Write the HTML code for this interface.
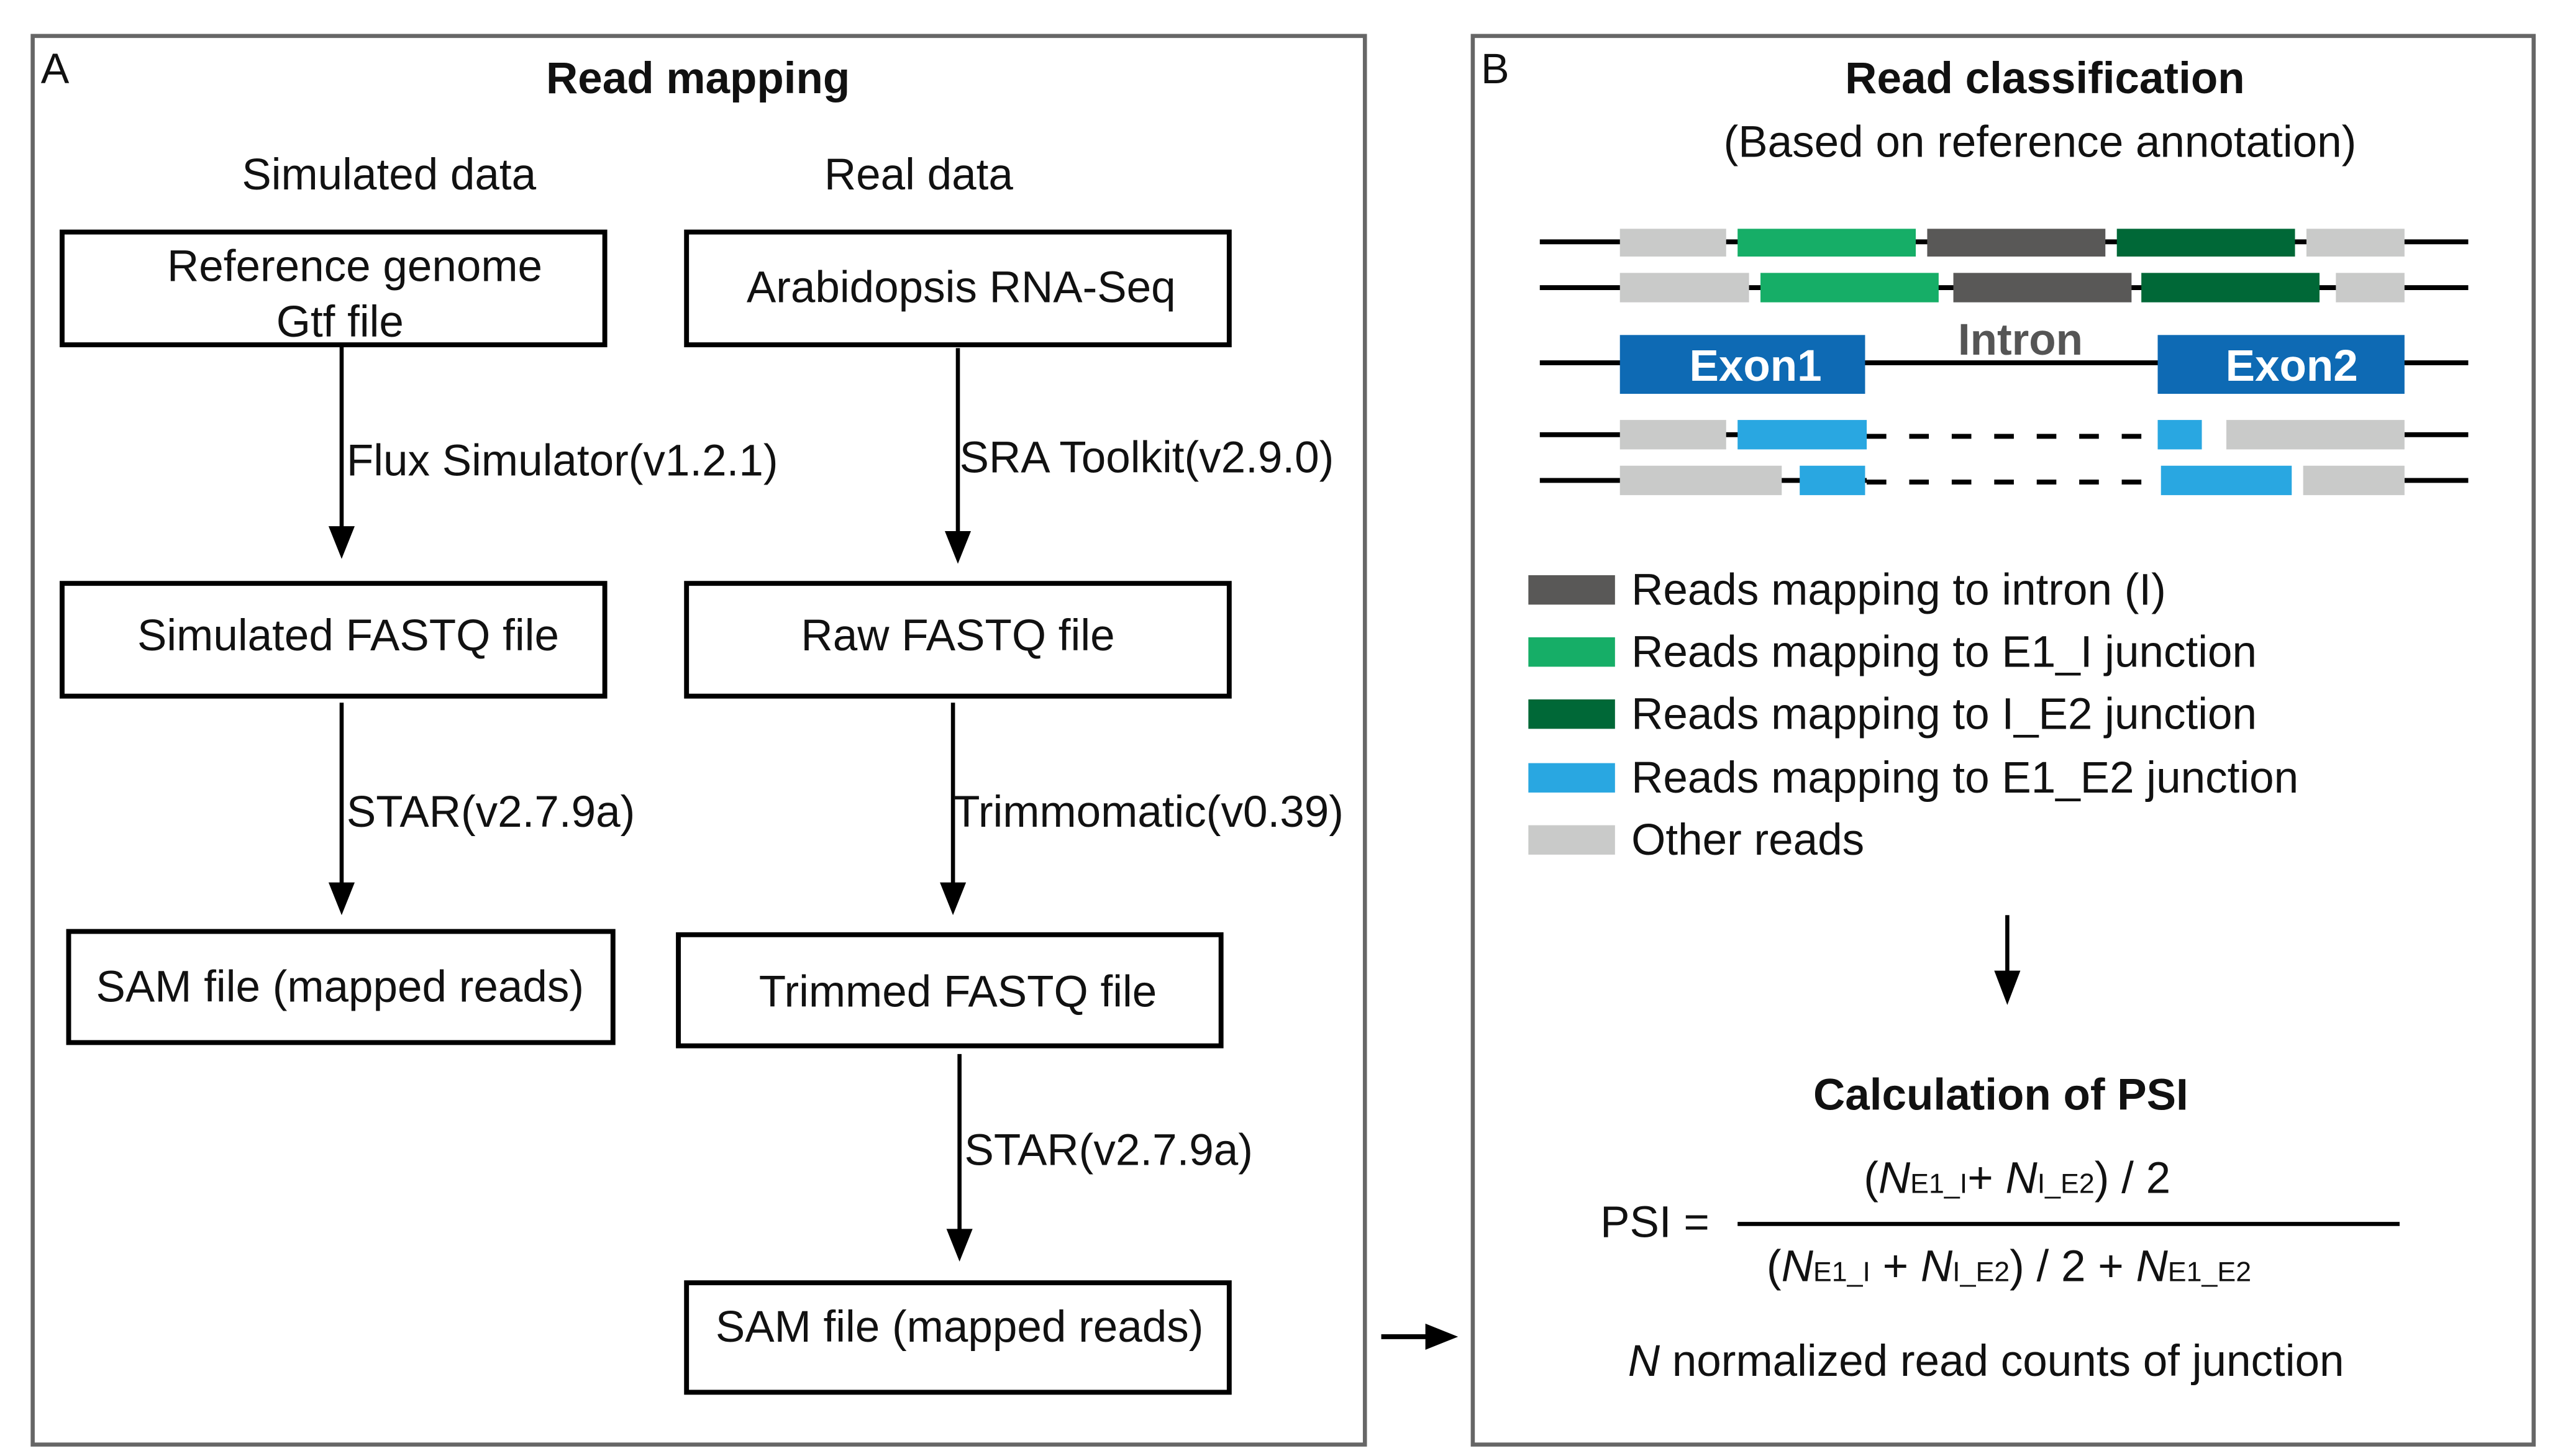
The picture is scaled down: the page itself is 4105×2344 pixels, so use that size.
<!DOCTYPE html>
<html><head><meta charset="utf-8"><style>
html,body{margin:0;padding:0;background:#fff}
svg{display:block}
text{font-family:"Liberation Sans",Arial,sans-serif;fill:#111}
</style></head><body>
<svg width="4105" height="2344" viewBox="0 0 1560 891" preserveAspectRatio="none" xmlns="http://www.w3.org/2000/svg">
<!-- Panel A -->
<rect x="20" y="22" width="815" height="862" fill="none" stroke="#666" stroke-width="2.5"/>
<text x="25" y="51" font-size="26">A</text>
<text x="427" y="57" font-size="27" font-weight="bold" text-anchor="middle">Read mapping</text>
<text x="238" y="116" font-size="27" text-anchor="middle">Simulated data</text>
<text x="562" y="116" font-size="27" text-anchor="middle">Real data</text>
<g fill="none" stroke="#000" stroke-width="3">
<rect x="38" y="142" width="332" height="69"/>
<rect x="420" y="142" width="332" height="69"/>
<rect x="38" y="357" width="332" height="69"/>
<rect x="420" y="357" width="332" height="69"/>
<rect x="42" y="570" width="333" height="68"/>
<rect x="415" y="572" width="332" height="68"/>
<rect x="420" y="785" width="332" height="67"/>
</g>
<g font-size="27">
<text x="217" y="172" text-anchor="middle">Reference genome</text>
<text x="208" y="206" text-anchor="middle">Gtf file</text>
<text x="588" y="185" text-anchor="middle">Arabidopsis RNA-Seq</text>
<text x="213" y="398" text-anchor="middle">Simulated FASTQ file</text>
<text x="586" y="398" text-anchor="middle">Raw FASTQ file</text>
<text x="208" y="613" text-anchor="middle">SAM file (mapped reads)</text>
<text x="586" y="616" text-anchor="middle">Trimmed FASTQ file</text>
<text x="587" y="821" text-anchor="middle">SAM file (mapped reads)</text>
</g>
<g stroke="#000" stroke-width="2.5">
<line x1="209" y1="211" x2="209" y2="325"/>
<line x1="586" y1="213" x2="586" y2="328"/>
<line x1="209" y1="430" x2="209" y2="543"/>
<line x1="583" y1="430" x2="583" y2="543"/>
<line x1="587" y1="645" x2="587" y2="755"/>
<line x1="845" y1="818" x2="876" y2="818" stroke-width="3"/>
</g>
<g fill="#000">
<polygon points="201,322 217,322 209,342"/>
<polygon points="578,325 594,325 586,345"/>
<polygon points="201,540 217,540 209,560"/>
<polygon points="575,540 591,540 583,560"/>
<polygon points="579,752 595,752 587,772"/>
<polygon points="872,810 892,818 872,826"/>
</g>
<g font-size="27">
<text x="212" y="291">Flux Simulator(v1.2.1)</text>
<text x="587" y="289">SRA Toolkit(v2.9.0)</text>
<text x="212" y="506">STAR(v2.7.9a)</text>
<text x="583" y="506">Trimmomatic(v0.39)</text>
<text x="590" y="713">STAR(v2.7.9a)</text>
</g>
<!-- Panel B -->
<rect x="901" y="22" width="649" height="862" fill="none" stroke="#666" stroke-width="2.5"/>
<text x="906" y="51" font-size="26">B</text>
<text x="1251" y="57" font-size="27" font-weight="bold" text-anchor="middle">Read classification</text>
<text x="1248" y="96" font-size="27" text-anchor="middle">(Based on reference annotation)</text>
<g stroke="#000" stroke-width="3">
<line x1="942" y1="148" x2="1510" y2="148"/>
<line x1="942" y1="176" x2="1510" y2="176"/>
<line x1="942" y1="222" x2="1510" y2="222"/>
<line x1="942" y1="266" x2="1142" y2="266"/><line x1="1471" y1="266" x2="1510" y2="266"/>
<line x1="942" y1="294" x2="1142" y2="294"/><line x1="1471" y1="294" x2="1510" y2="294"/>
<line x1="1142" y1="267" x2="1320" y2="267" stroke-dasharray="12,14"/>
<line x1="1142" y1="295" x2="1320" y2="295" stroke-dasharray="12,14"/>
</g>
<g>
<rect x="991" y="140" width="65" height="17" fill="#c9cac9"/>
<rect x="1063" y="140" width="109" height="17" fill="#16ae67"/>
<rect x="1179" y="140" width="109" height="17" fill="#595857"/>
<rect x="1295" y="140" width="109" height="17" fill="#006837"/>
<rect x="1411" y="140" width="60" height="17" fill="#c9cac9"/>
<rect x="991" y="167" width="79" height="18" fill="#c9cac9"/>
<rect x="1077" y="167" width="109" height="18" fill="#16ae67"/>
<rect x="1195" y="167" width="109" height="18" fill="#595857"/>
<rect x="1310" y="167" width="109" height="18" fill="#006837"/>
<rect x="1429" y="167" width="42" height="18" fill="#c9cac9"/>
<rect x="991" y="205" width="150" height="36" fill="#0e6ab4"/>
<rect x="1320" y="205" width="151" height="36" fill="#0e6ab4"/>
<rect x="991" y="257" width="65" height="18" fill="#c9cac9"/>
<rect x="1063" y="257" width="79" height="18" fill="#29a7e1"/>
<rect x="1320" y="257" width="27" height="18" fill="#29a7e1"/>
<rect x="1362" y="257" width="109" height="18" fill="#c9cac9"/>
<rect x="991" y="285" width="99" height="18" fill="#c9cac9"/>
<rect x="1101" y="285" width="40" height="18" fill="#29a7e1"/>
<rect x="1322" y="285" width="80" height="18" fill="#29a7e1"/>
<rect x="1409" y="285" width="62" height="18" fill="#c9cac9"/>
</g>
<text x="1074" y="233" font-size="27" font-weight="bold" text-anchor="middle" style="fill:#fff">Exon1</text>
<text x="1402" y="233" font-size="27" font-weight="bold" text-anchor="middle" style="fill:#fff">Exon2</text>
<text x="1236" y="217" font-size="27" font-weight="bold" text-anchor="middle" style="fill:#555">Intron</text>
<rect x="935" y="352" width="53" height="18" fill="#595857"/>
<rect x="935" y="390" width="53" height="18" fill="#16ae67"/>
<rect x="935" y="428" width="53" height="18" fill="#006837"/>
<rect x="935" y="467" width="53" height="18" fill="#29a7e1"/>
<rect x="935" y="505" width="53" height="18" fill="#c9cac9"/>
<g font-size="27">
<text x="998" y="370">Reads mapping to intron (I)</text>
<text x="998" y="408">Reads mapping to E1_I junction</text>
<text x="998" y="446">Reads mapping to I_E2 junction</text>
<text x="998" y="485">Reads mapping to E1_E2 junction</text>
<text x="998" y="523">Other reads</text>
</g>
<line x1="1228" y1="560" x2="1228" y2="597" stroke="#000" stroke-width="2.5"/>
<polygon points="1220,594 1236,594 1228,615" fill="#000"/>
<text x="1224" y="679" font-size="27" font-weight="bold" text-anchor="middle">Calculation of PSI</text>
<text x="979" y="757" font-size="27">PSI =</text>
<line x1="1063" y1="749" x2="1468" y2="749" stroke="#000" stroke-width="2.5"/>
<text x="1234" y="730" font-size="27" text-anchor="middle">(<tspan font-style="italic">N</tspan><tspan font-size="17">E1_I</tspan>+ <tspan font-style="italic">N</tspan><tspan font-size="17">I_E2</tspan>) / 2</text>
<text x="1229" y="784" font-size="27" text-anchor="middle">(<tspan font-style="italic">N</tspan><tspan font-size="17">E1_I</tspan> + <tspan font-style="italic">N</tspan><tspan font-size="17">I_E2</tspan>) / 2 + <tspan font-style="italic">N</tspan><tspan font-size="17">E1_E2</tspan></text>
<text x="1215" y="842" font-size="27" text-anchor="middle"><tspan font-style="italic">N</tspan> normalized read counts of junction</text>
</svg>
</body></html>
